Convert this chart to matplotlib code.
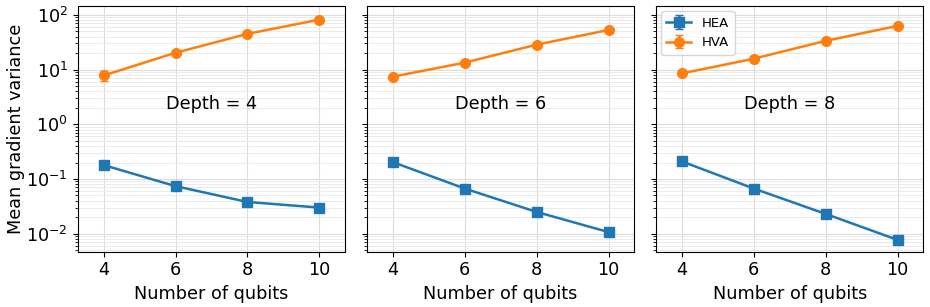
import matplotlib
matplotlib.use("Agg")
import matplotlib.pyplot as plt
import numpy as np

qubits = [4, 6, 8, 10]
depths = [4, 6, 8]

hea_vals = {
    4: [0.18, 0.074, 0.038, 0.030],
    6: [0.204, 0.067, 0.025, 0.0107],
    8: [0.21, 0.067, 0.023, 0.0077],
}
hea_err = {
    4: [0.01, 0.004, 0.002, 0.0015],
    6: [0.01, 0.003, 0.0012, 0.0005],
    8: [0.01, 0.003, 0.001, 0.0004],
}
hva_vals = {
    4: [7.8, 20.3, 45.0, 82.0],
    6: [7.4, 13.4, 28.5, 53.0],
    8: [8.5, 15.8, 33.5, 63.0],
}
hva_err = {
    4: [1.6, 1.2, 2.0, 3.0],
    6: [0.5, 0.8, 1.2, 2.0],
    8: [0.6, 0.9, 1.5, 2.5],
}

plt.rcParams['font.family'] = ['DejaVu Sans']
fig, axes = plt.subplots(1, 3, figsize=(9.3, 3.07), dpi=100, sharey=True)
fig.subplots_adjust(left=0.0835, right=0.993, top=0.98, bottom=0.18, wspace=0.08)

fs = 12.7
for ax, d in zip(axes, depths):
    ax.errorbar(qubits, hea_vals[d], yerr=hea_err[d], marker='s', color='#1f77b4',
                markersize=7, linewidth=1.8, capsize=3, label='HEA')
    ax.errorbar(qubits, hva_vals[d], yerr=hva_err[d], marker='o', color='#ff7f0e',
                markersize=7, linewidth=1.8, capsize=3, label='HVA')
    ax.set_yscale('log')
    ax.set_xlim(3.28, 10.72)
    ax.set_ylim(10**-2.33, 10**2.16)
    ax.set_xticks(qubits)
    ax.grid(True, which='major', color='#dddddd', linewidth=0.8)
    ax.grid(True, which='minor', color='#e8e8e8', linewidth=0.6)
    ax.set_axisbelow(True)
    ax.tick_params(labelsize=fs)
    ax.set_xlabel('Number of qubits', fontsize=fs)
    ax.text(0.5, 0.6, f'Depth = {d}', transform=ax.transAxes, ha='center', va='center', fontsize=fs)

axes[0].set_ylabel('Mean gradient variance', fontsize=fs, labelpad=1)
axes[2].legend(loc='upper left', fontsize=9.5, handlelength=1.9, borderaxespad=0.4)

fig.savefig('out.png', dpi=100)
